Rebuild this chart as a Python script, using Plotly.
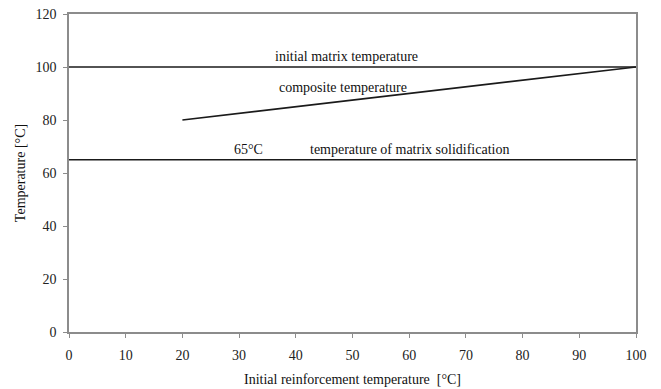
import plotly.graph_objects as go

# Data
composite_x = [20, 100]
composite_y = [80, 100]
matrix_x = [0, 100]
matrix_y = [100, 100]
solid_x = [0, 100]
solid_y = [65, 65]

x_ticks = [0, 10, 20, 30, 40, 50, 60, 70, 80, 90, 100]
y_ticks = [0, 20, 40, 60, 80, 100, 120]

FONT = "Liberation Serif, Times New Roman, Times, serif"
LINE = "#1a1a1a"

fig = go.Figure()
for xs, ys in [(matrix_x, matrix_y), (solid_x, solid_y), (composite_x, composite_y)]:
    fig.add_trace(go.Scatter(x=xs, y=ys, mode="lines",
                             line=dict(color=LINE, width=1.7), showlegend=False))

ann_font = dict(family=FONT, size=14, color="#111")
fig.add_annotation(x=48.9, y=103.9, text="initial matrix temperature", showarrow=False, font=ann_font)
fig.add_annotation(x=48.3, y=92.2, text="composite temperature", showarrow=False, font=ann_font)
fig.add_annotation(x=31.6, y=68.7, text="65°C", showarrow=False, font=ann_font)
fig.add_annotation(x=60.0, y=68.7, text="temperature of matrix solidification", showarrow=False, font=ann_font)

axis_common = dict(showgrid=False, zeroline=False, showline=True, linecolor="#8c8c8c",
                   linewidth=1.5, mirror=True, ticks="outside", ticklen=4,
                   tickcolor="#8c8c8c", tickwidth=1, automargin=False,
                   ticklabeloverflow="allow",
                   tickfont=dict(family=FONT, size=14, color="#222"))

fig.update_xaxes(range=[0, 100], tickvals=x_ticks, ticklabelstandoff=5,
                 title=dict(text="Initial reinforcement temperature  [°C]",
                            font=dict(family=FONT, size=14, color="#111"), standoff=13),
                 **axis_common)
fig.update_yaxes(range=[0, 120], tickvals=y_ticks, ticklabelstandoff=4,
                 title=dict(text="Temperature [°C]",
                            font=dict(family=FONT, size=14, color="#111"), standoff=7),
                 **axis_common)

fig.update_layout(width=653, height=381, margin=dict(l=61, r=25, t=6, b=57),
                  plot_bgcolor="white", paper_bgcolor="white",
                  font=dict(family=FONT))

fig.write_html("out.html")
